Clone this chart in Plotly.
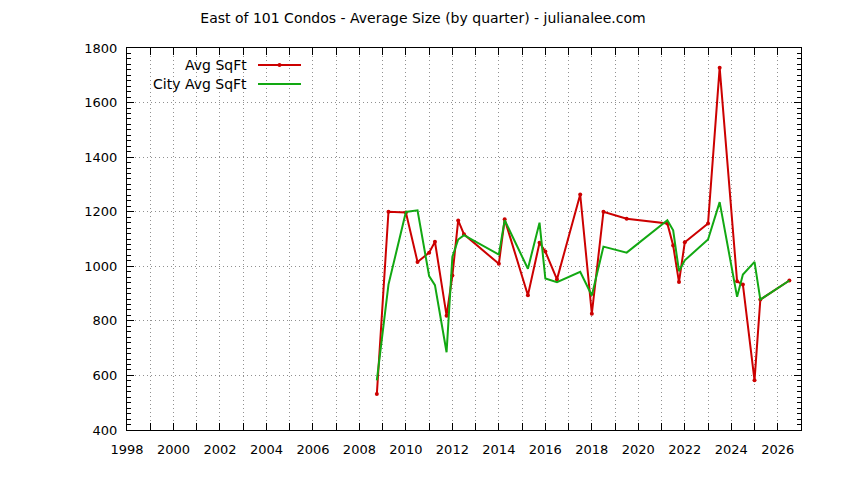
import plotly.graph_objects as go

quarters = [2008.75, 2009.25, 2010.0, 2010.5, 2011.0, 2011.25, 2011.75, 2012.0, 2012.25, 2012.5,
            2014.0, 2014.25, 2015.25, 2015.75, 2016.0, 2016.5, 2017.5, 2018.0, 2018.5, 2019.5,
            2021.25, 2021.5, 2021.75, 2022.0, 2023.0, 2023.5, 2024.25, 2024.5, 2025.0, 2025.25, 2026.5]
avg_sqft = [532, 1200, 1197, 1016, 1050, 1090, 819, 966, 1168, 1117,
            1009, 1172, 894, 1086, 1054, 952, 1263, 826, 1200, 1174,
            1157, 1076, 942, 1088, 1157, 1728, 945, 933, 582, 878, 948]
city_avg_sqft = [582, 933, 1199, 1205, 964, 931, 685, 1035, 1098, 1114,
                 1043, 1169, 991, 1160, 955, 942, 980, 893, 1072, 1050,
                 1169, 1132, 982, 1022, 1098, 1235, 888, 970, 1016, 878, 948]
series_names = ["Avg SqFt", "City Avg SqFt"]
x_tick_years = list(range(1998, 2027, 2))
title_text = "East of 101 Condos - Average Size (by quarter) - julianalee.com"

RED = "#cc0000"
GREEN = "#12a812"
FONT = "DejaVu Sans"
GRID = "#909090"
GRIDDASH = "1px,3px"

fig = go.Figure()
fig.add_trace(go.Scatter(x=quarters, y=avg_sqft, mode="lines+markers", name=series_names[0],
                         line=dict(color=RED, width=2), marker=dict(color=RED, size=4),
                         showlegend=False))
fig.add_trace(go.Scatter(x=quarters, y=city_avg_sqft, mode="lines", name=series_names[1],
                         line=dict(color=GREEN, width=2), showlegend=False))

# page body has an 8px margin, so figure origin is at (8, 8) in the window
OFF = 8
W, H = 836, 472
L, T = 127 - OFF, 48 - OFF
pw, ph = 674, 382
R = W - L - pw
B = H - T - ph

def px(xp):
    return (xp - OFF - L) / pw

def py(yp):
    return 1 - (yp - OFF - T) / ph

# gnuplot-style legend (text left, sample right)
legend_y = [65, 84]
legend_cols = [RED, GREEN]
for i, (nm, col) in enumerate(zip(series_names, legend_cols)):
    fig.add_annotation(x=px(249), y=py(legend_y[i]), xref="paper", yref="paper",
                       text=nm, showarrow=False, xanchor="right", yanchor="middle",
                       font=dict(family=FONT, size=14, color="black"))
    fig.add_shape(type="line", xref="paper", yref="paper",
                  x0=px(258), x1=px(301), y0=py(legend_y[i]), y1=py(legend_y[i]),
                  line=dict(color=col, width=2))
fig.add_shape(type="circle", xref="paper", yref="paper",
              x0=px(277.5), x1=px(281.5), y0=py(legend_y[0] - 2), y1=py(legend_y[0] + 2),
              line=dict(color=RED, width=0), fillcolor=RED)

fig.update_layout(
    width=W, height=H,
    margin=dict(l=L, r=R, t=T, b=B, autoexpand=False),
    paper_bgcolor="white", plot_bgcolor="white",
    font=dict(family=FONT, size=13, color="black"),
    title=dict(text=title_text, x=(423 - OFF) / W, xref="container", xanchor="center",
               y=1 - (18 - OFF) / H, yref="container", yanchor="middle",
               font=dict(family=FONT, size=14, color="black")),
    showlegend=False,
)
fig.update_xaxes(
    range=[1998, 2027], tickmode="array", tickvals=x_tick_years,
    ticktext=[str(v) for v in x_tick_years],
    ticks="inside", ticklen=7, tickwidth=1, tickcolor="black",
    showline=True, linecolor="black", linewidth=1, mirror="allticks",
    showgrid=True, gridcolor=GRID, griddash=GRIDDASH, gridwidth=1,
    minor=dict(dtick=1, tick0=1998, ticks="inside", ticklen=7, tickcolor="black",
               showgrid=True, gridcolor=GRID, griddash=GRIDDASH, gridwidth=1),
    zeroline=False, ticklabelstandoff=7,
    tickfont=dict(family=FONT, size=13, color="black"),
)
fig.update_yaxes(
    range=[400, 1800], dtick=200, tick0=400,
    ticks="inside", ticklen=7, tickwidth=1, tickcolor="black",
    showline=True, linecolor="black", linewidth=1, mirror="allticks",
    showgrid=True, gridcolor=GRID, griddash=GRIDDASH, gridwidth=1,
    minor=dict(dtick=20, tick0=400, ticks="inside", ticklen=4, tickcolor="black", showgrid=False),
    zeroline=False, ticklabelstandoff=6,
    tickfont=dict(family=FONT, size=13, color="black"),
)

fig.write_html("out.html")
